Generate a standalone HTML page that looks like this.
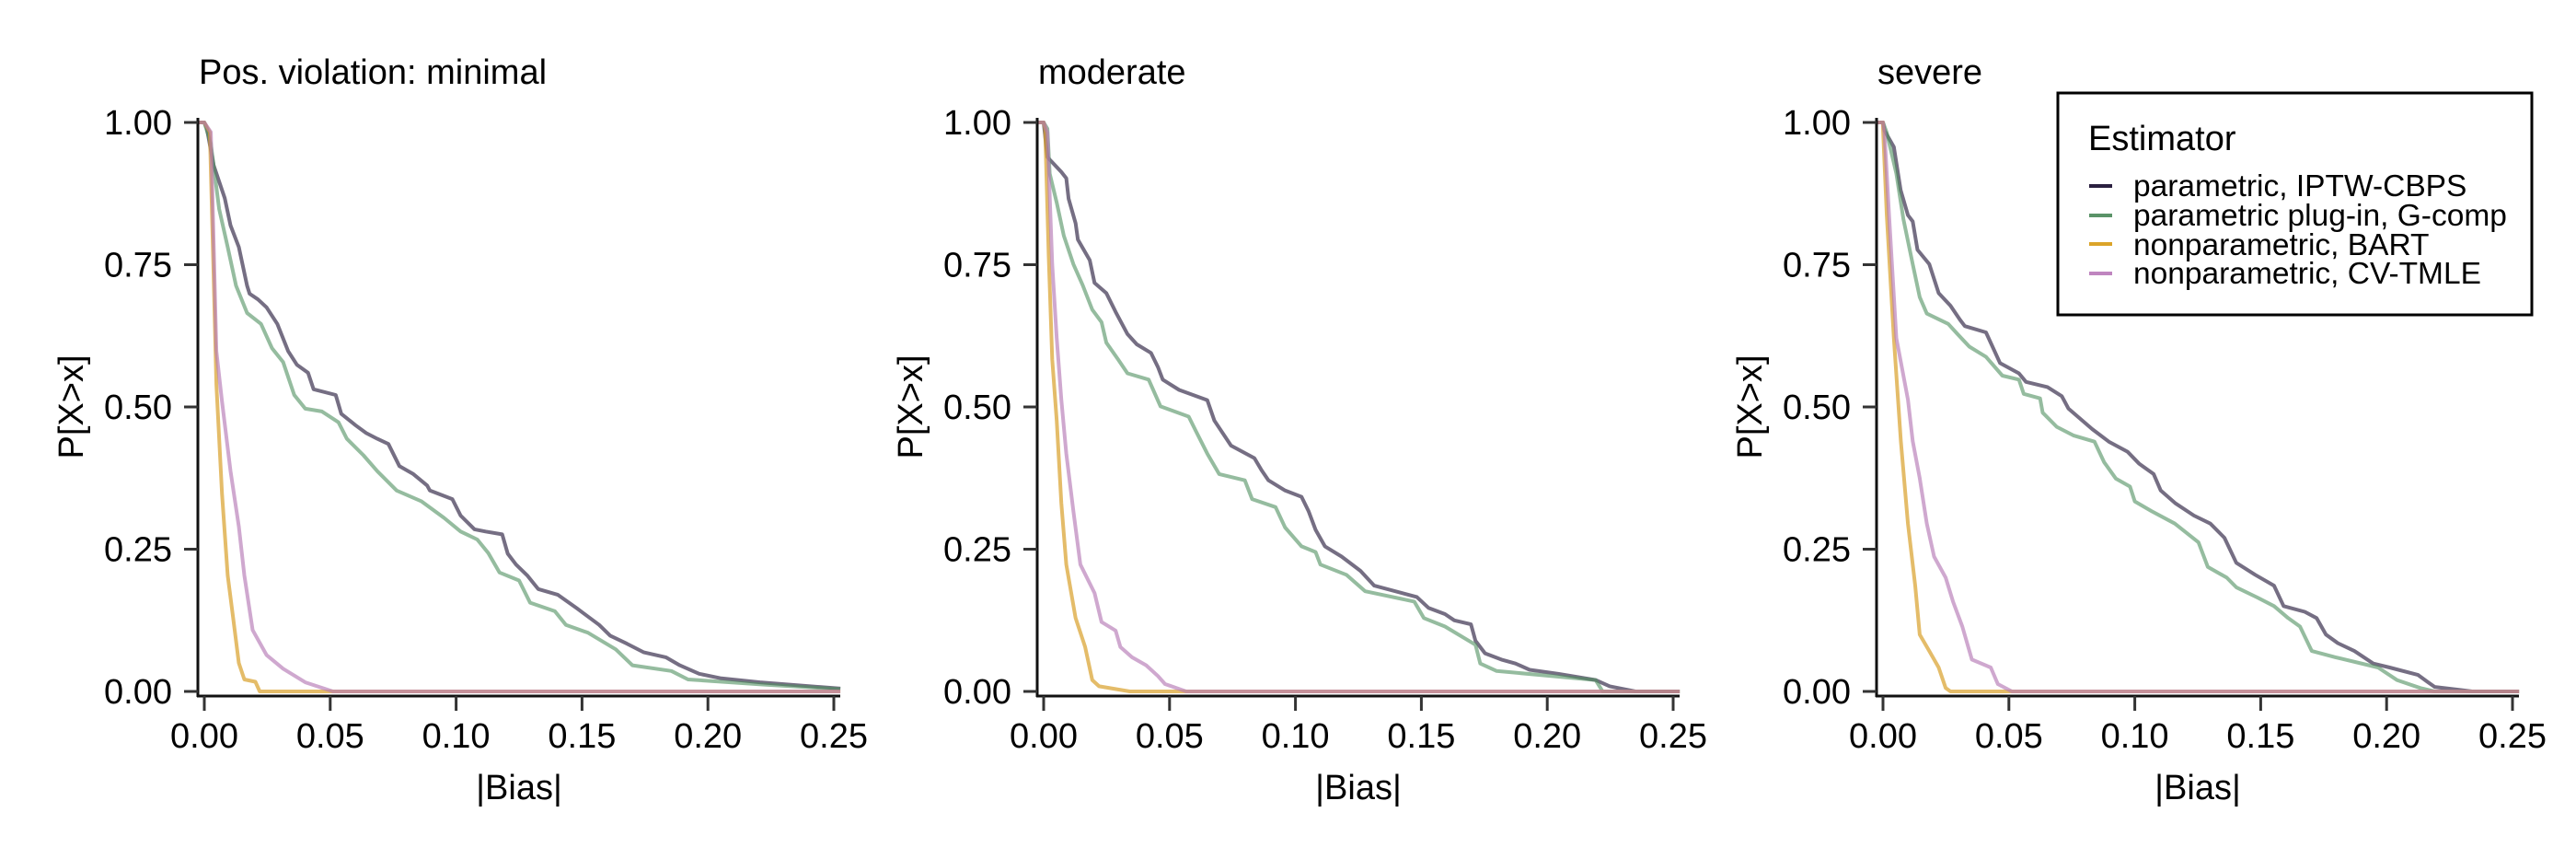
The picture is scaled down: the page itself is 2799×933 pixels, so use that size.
<!DOCTYPE html>
<html><head><meta charset="utf-8"><style>
html,body{margin:0;padding:0;background:#fff;}
svg{display:block;font-family:"Liberation Sans",Arial,sans-serif;}
</style></head><body>
<svg id="chart" width="2799" height="933" viewBox="0 0 2799 933" xmlns="http://www.w3.org/2000/svg">
<g id="panels"></g>
<g>
<rect x="2236" y="101" width="515" height="241" fill="#fff" stroke="#000" stroke-width="3"/>
<text x="2269" y="163" font-size="38">Estimator</text>
<line x1="2270" x2="2295" y1="202" y2="202" stroke="#2b2040" stroke-width="4"/>
<text x="2318" y="213" font-size="33.5">parametric, IPTW-CBPS</text>
<line x1="2270" x2="2295" y1="234" y2="234" stroke="#5a9368" stroke-width="4"/>
<text x="2318" y="245" font-size="33.5">parametric plug-in, G-comp</text>
<line x1="2270" x2="2295" y1="265" y2="265" stroke="#dba429" stroke-width="4"/>
<text x="2318" y="277" font-size="33.5">nonparametric, BART</text>
<line x1="2270" x2="2295" y1="297" y2="297" stroke="#bf85bf" stroke-width="4"/>
<text x="2318" y="308" font-size="33.5">nonparametric, CV-TMLE</text>
</g>
</svg>
<script>
const panelTitles = ["Pos. violation: minimal", "moderate", "severe"];
const xTicks = [0, 0.05, 0.10, 0.15, 0.20, 0.25];
const xTickLabels = ["0.00", "0.05", "0.10", "0.15", "0.20", "0.25"];
const yTicks = [0, 0.25, 0.5, 0.75, 1];
const yTickLabels = ["0.00", "0.25", "0.50", "0.75", "1.00"];

// minimal
const minIptwX = [0,.001,.0037,.0081,.0104,.0137,.017,.018,.0213,.0247,.029,.0333,.0368,.0412,.0434,.0522,.0544,.06,.0643,.0687,.0731,.0775,.083,.0885,.0896,.0985,.1018,.1073,.1117,.1183,.1205,.1238,.1282,.1326,.1403,.148,.1568,.1612,.1678,.1744,.1833,.1888,.1965,.2053,.2207,.2526];
const minIptwY = [1,.99,.925,.867,.819,.781,.713,.699,.689,.675,.646,.598,.574,.56,.531,.521,.488,.468,.454,.444,.435,.396,.382,.362,.353,.338,.309,.285,.281,.276,.242,.223,.204,.18,.17,.146,.117,.098,.084,.069,.06,.046,.031,.023,.016,.005];
const minGcompX = [0,.0026,.0059,.0093,.0126,.017,.0225,.0269,.0313,.0357,.0401,.0467,.0533,.0566,.0632,.0687,.0764,.0863,.0952,.1018,.1084,.1128,.1172,.125,.1294,.1392,.1436,.1524,.1634,.17,.1855,.1921,.2225,.2526];
const minGcompY = [1,.963,.848,.781,.713,.665,.646,.603,.579,.521,.497,.492,.473,.444,.415,.387,.353,.334,.305,.281,.267,.243,.209,.195,.156,.141,.117,.103,.074,.046,.036,.021,.012,.004];
const minBartX = [0,.0022,.0037,.0048,.007,.0093,.0115,.0137,.0159,.0203,.022,.2526];
const minBartY = [1,.983,.733,.54,.348,.204,.127,.05,.021,.017,0,0];
const minTmleX = [0,.0026,.0048,.007,.0104,.0137,.0159,.0192,.0247,.0313,.0401,.0511,.2526];
const minTmleY = [1,.983,.598,.51,.387,.29,.204,.108,.064,.04,.016,0,0];

// moderate
const modIptwX = [0,.0015,.007,.009,.0099,.0127,.0136,.0183,.0202,.0249,.0286,.0333,.037,.0426,.0454,.0473,.0538,.065,.0678,.0744,.0837,.0865,.0893,.0959,.1024,.1052,.108,.1117,.1183,.1258,.1313,.1482,.1528,.1594,.1631,.1697,.1715,.1753,.1818,.1874,.193,.2043,.2192,.2248,.235,.2526];
const modIptwY = [1,.939,.913,.902,.866,.823,.794,.758,.718,.7,.667,.628,.61,.595,.57,.548,.53,.512,.476,.432,.41,.389,.371,.353,.342,.317,.284,.255,.237,.212,.186,.166,.147,.136,.125,.118,.089,.067,.056,.049,.038,.031,.02,.009,0,0];
const modGcompX = [0,.0015,.0024,.0052,.008,.0118,.0155,.0193,.023,.0249,.0295,.0333,.0417,.0464,.0576,.0604,.065,.0697,.0799,.0828,.0921,.0959,.1024,.108,.1099,.1202,.1277,.1472,.151,.1594,.1715,.1734,.1799,.2192,.222,.2526];
const modGcompY = [1,.989,.91,.859,.801,.751,.714,.671,.649,.613,.584,.559,.548,.501,.483,.458,.418,.382,.371,.338,.324,.288,.255,.245,.223,.205,.176,.158,.129,.114,.082,.049,.036,.02,0,0];
const modBartX = [0,.0006,.002,.0034,.0052,.007,.009,.0127,.0165,.0193,.022,.0342,.2526];
const modBartY = [1,.989,.765,.584,.476,.331,.223,.129,.078,.02,.009,0,0];
const modTmleX = [0,.0015,.0034,.0052,.007,.009,.0118,.0146,.0202,.023,.0286,.0305,.0351,.0407,.0454,.0482,.0566,.2526];
const modTmleY = [1,.982,.751,.621,.513,.418,.317,.223,.173,.122,.107,.078,.06,.046,.027,.013,0,0];

// severe
const sevIptwX = [0,.0006,.0043,.007,.0099,.0118,.0137,.0184,.0221,.0268,.0306,.0325,.0409,.0465,.054,.0568,.0653,.071,.0737,.0784,.0831,.0897,.0972,.1018,.1075,.1103,.116,.1235,.13,.1356,.1403,.1478,.1553,.1591,.1675,.1722,.1759,.1806,.1872,.1947,.2012,.2125,.2162,.2191,.234,.2526];
const sevIptwY = [1,.986,.957,.881,.837,.826,.776,.751,.7,.678,.653,.642,.631,.577,.559,.544,.535,.519,.497,.479,.461,.439,.421,.4,.382,.353,.331,.309,.295,.27,.226,.205,.186,.15,.14,.129,.1,.085,.071,.049,.042,.029,.017,.008,0,0];
const sevGcompX = [0,.0015,.0053,.0081,.0118,.0146,.0174,.0259,.0296,.0343,.0409,.0474,.054,.0559,.0624,.0634,.069,.0756,.084,.0878,.0925,.0981,.1,.1066,.1159,.1253,.129,.1365,.1403,.1487,.1553,.1609,.1656,.1703,.1797,.1966,.2041,.2134,.2191,.2526];
const sevGcompY = [1,.982,.91,.83,.751,.693,.664,.646,.628,.606,.588,.555,.548,.523,.515,.49,.465,.45,.439,.403,.374,.36,.334,.317,.295,.262,.219,.2,.183,.165,.15,.129,.114,.071,.06,.042,.02,.006,0,0];
const sevBartX = [0,0,.0015,.0043,.0071,.0099,.0128,.0146,.0184,.0221,.0249,.0268,.2526];
const sevBartY = [1,.989,.837,.621,.44,.295,.186,.1,.071,.042,.006,0,0];
const sevTmleX = [0,.0006,.0024,.0053,.0099,.0118,.0146,.0174,.0203,.0249,.0278,.0315,.0353,.0428,.0456,.0512,.2526];
const sevTmleY = [1,.982,.837,.621,.513,.44,.375,.295,.237,.2,.158,.114,.056,.042,.013,0,0];

const seriesNames = ["iptw","gcomp","bart","cvtmle"];
const seriesColors = ["#2b2040","#4f8f5f","#d9a02a","#b57ab5"];
const seriesOpacity = [0.65,0.6,0.7,0.65];
const panelData = [
  [[minIptwX,minIptwY],[minGcompX,minGcompY],[minBartX,minBartY],[minTmleX,minTmleY]],
  [[modIptwX,modIptwY],[modGcompX,modGcompY],[modBartX,modBartY],[modTmleX,modTmleY]],
  [[sevIptwX,sevIptwY],[sevGcompX,sevGcompY],[sevBartX,sevBartY],[sevTmleX,sevTmleY]]
];

const NS = "http://www.w3.org/2000/svg";
const root = document.getElementById("panels");
const PANEL_STEP = 912;
const X0 = 222, XPU = (906 - 222) / 0.25;
const Y0 = 751, YPU = 751 - 133;
function mk(tag, attrs, parent) {
  const e = document.createElementNS(NS, tag);
  for (const k in attrs) e.setAttribute(k, attrs[k]);
  parent.appendChild(e);
  return e;
}
panelTitles.forEach((title, p) => {
  const off = p * PANEL_STEP;
  const sx = v => off + X0 + v * XPU;
  const sy = v => Y0 - v * YPU;
  const g = mk("g", {}, root);
  
  
  const t = mk("text", {x: off + 216, y: 91, "font-size": 38}, g);
  t.textContent = title;
  
  
  const sg = mk("g", {fill: "none", "stroke-width": 4, "stroke-linejoin": "round"}, g);
  panelData[p].forEach((s, i) => {
    const xs = s[0], ys = s[1];
    let pts = [[off + 215, sy(ys[0])]];
    for (let k = 0; k < xs.length; k++) pts.push([sx(xs[k]), sy(ys[k])]);
    const pl = mk("polyline", {points: pts.map(q => q[0].toFixed(1) + "," + q[1].toFixed(1)).join(" "), stroke: seriesColors[i], "stroke-opacity": seriesOpacity[i]}, sg);
    
    
  });
  const ya = mk("line", {x1: off + 215, x2: off + 215, y1: 128, y2: 757, stroke: "#111", "stroke-width": 3}, g);
  
  
  const xa = mk("line", {x1: off + 214, x2: off + 913, y1: 756, y2: 756, stroke: "#111", "stroke-width": 3}, g);
  
  
  yTicks.forEach((v, i) => {
    const tk = mk("line", {x1: off + 200, x2: off + 215, y1: sy(v), y2: sy(v), stroke: "#333", "stroke-width": 3}, g);
    
    
    const lb = mk("text", {x: off + 187, y: sy(v) + 13, "font-size": 38, "text-anchor": "end"}, g);
    lb.textContent = yTickLabels[i];
    
    
  });
  xTicks.forEach((v, i) => {
    const tk = mk("line", {x1: sx(v), x2: sx(v), y1: 756, y2: 772, stroke: "#333", "stroke-width": 3}, g);
    
    
    const lb = mk("text", {x: sx(v), y: 812, "font-size": 38, "text-anchor": "middle"}, g);
    lb.textContent = xTickLabels[i];
    
    
  });
  const xt = mk("text", {x: off + 564, y: 868, "font-size": 38, "text-anchor": "middle"}, g);
  xt.textContent = "|Bias|";
  
  
  const yt = mk("text", {x: 0, y: 0, "font-size": 38, "text-anchor": "middle", transform: "translate(" + (off + 90) + ",442) rotate(-90)"}, g);
  yt.textContent = "P[X>x]";
  
  
});
</script>
</body></html>
